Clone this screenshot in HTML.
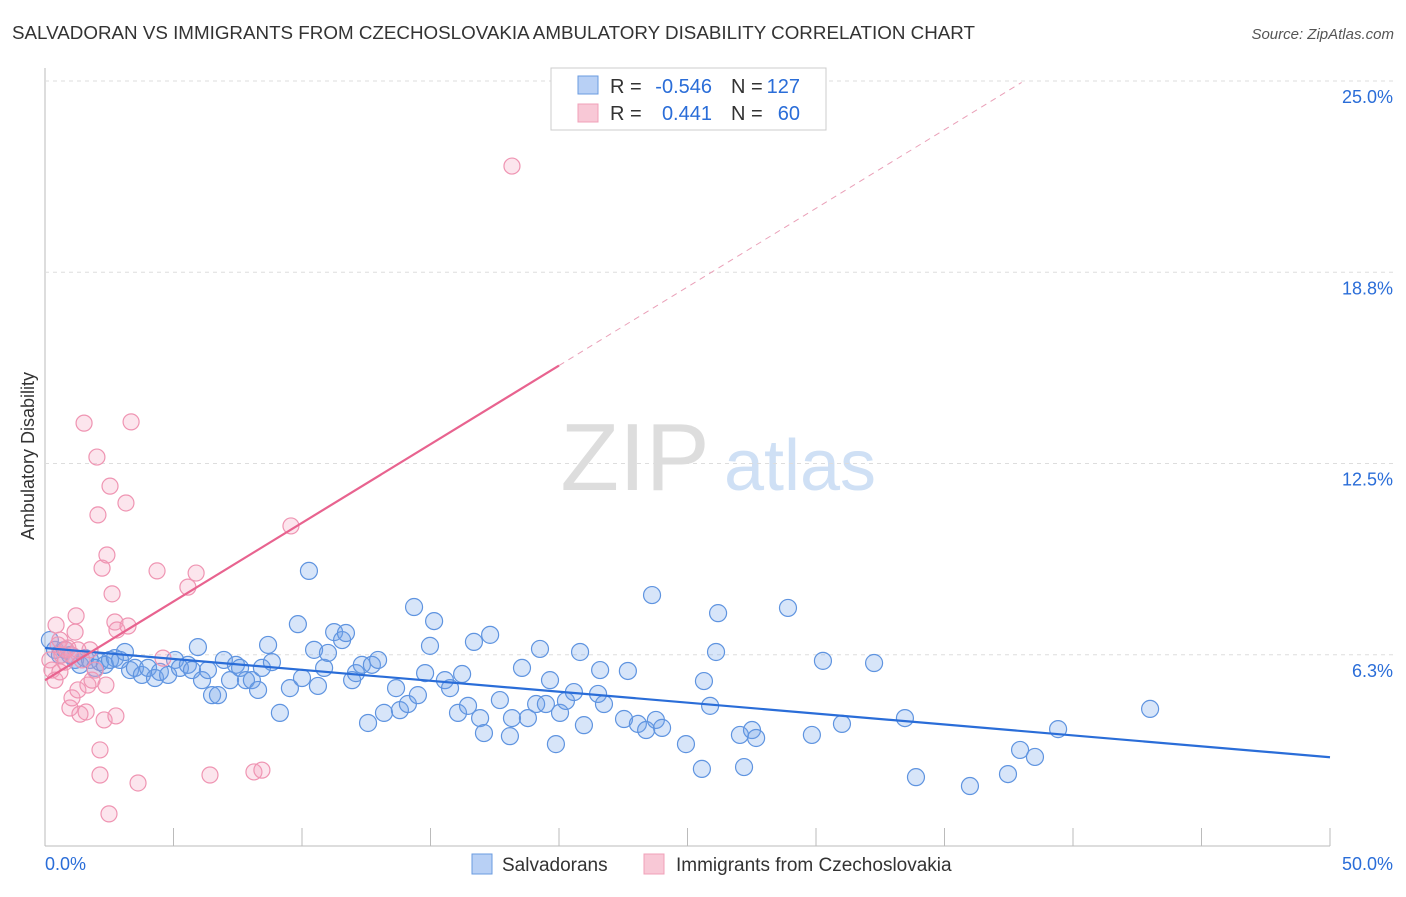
<!DOCTYPE html>
<html><head><meta charset="utf-8"><style>
body{margin:0;background:#fff;font-family:"Liberation Sans",sans-serif}
svg text{font-family:"Liberation Sans",sans-serif}
</style></head><body>
<svg id="c" width="1406" height="892" xmlns="http://www.w3.org/2000/svg">
<text x="12" y="39" font-size="18" fill="#333" textLength="963" lengthAdjust="spacingAndGlyphs">SALVADORAN VS IMMIGRANTS FROM CZECHOSLOVAKIA AMBULATORY DISABILITY CORRELATION CHART</text>
<text x="1394" y="39" font-size="15" fill="#555" text-anchor="end" font-style="italic">Source: ZipAtlas.com</text>
<text transform="translate(34,456) rotate(-90)" font-size="18" fill="#333" text-anchor="middle">Ambulatory Disability</text>
<g>
<text x="635" y="490" font-size="96" fill="#ddd" text-anchor="middle" font-family="Liberation Serif">ZIP</text>
<text x="800" y="490" font-size="72" fill="#cfe0f5" text-anchor="middle">atlas</text>
</g>
<g id="grid"></g><g id="marks"></g>
<g>
<rect x="551" y="68" width="275" height="62" fill="#fff" stroke="#ccc"/>
<rect x="578" y="76" width="20" height="18" fill="#b8d0f5" stroke="#6a9be0"/>
<rect x="578" y="104" width="20" height="18" fill="#f8c8d6" stroke="#f0a0b8"/>
<text x="610" y="93" font-size="20" fill="#333">R =</text>
<text x="712" y="93" font-size="20" fill="#2a6dd8" text-anchor="end">-0.546</text>
<text x="731" y="93" font-size="20" fill="#333">N =</text>
<text x="800" y="93" font-size="20" fill="#2a6dd8" text-anchor="end">127</text>
<text x="610" y="120" font-size="20" fill="#333">R =</text>
<text x="712" y="120" font-size="20" fill="#2a6dd8" text-anchor="end">0.441</text>
<text x="731" y="120" font-size="20" fill="#333">N =</text>
<text x="800" y="120" font-size="20" fill="#2a6dd8" text-anchor="end">60</text>
</g>
<g>
<rect x="472" y="854" width="20" height="20" fill="#b8d0f5" stroke="#6a9be0"/>
<text x="502" y="871" font-size="19" fill="#333">Salvadorans</text>
<rect x="644" y="854" width="20" height="20" fill="#f8c8d6" stroke="#f0a0b8"/>
<text x="676" y="871" font-size="19" fill="#333">Immigrants from Czechoslovakia</text>
</g>
</svg>
<script>
const yTicks=[6.25,12.5,18.75,25];
const yTickLabels=["6.3%","12.5%","18.8%","25.0%"];
const xTickLabels=["0.0%","50.0%"];
const blueX=[0.19,0.39,0.58,0.78,0.97,1.17,1.36,1.56,1.75,1.95,2.14,2.33,2.53,2.72,2.92,3.11,3.31,3.50,3.77,4.01,4.28,4.47,4.79,5.06,5.25,5.56,5.72,5.95,6.11,6.34,6.50,6.73,6.96,7.20,7.43,7.59,7.82,8.05,8.29,8.44,8.68,8.83,9.14,9.53,9.84,10.0,10.27,10.47,10.62,10.86,11.01,11.25,11.56,11.71,11.95,12.10,12.33,12.57,12.72,12.96,13.19,13.66,13.81,14.12,14.36,14.51,14.79,14.98,15.14,15.56,15.76,16.07,16.23,16.46,16.69,16.93,17.08,17.32,17.70,18.09,18.17,18.56,18.79,19.11,19.26,19.49,19.65,19.88,20.04,20.27,20.58,20.82,20.97,21.52,21.60,21.75,22.53,22.68,23.07,23.39,23.62,23.77,24.01,24.94,25.56,25.64,25.88,26.11,26.19,27.04,27.20,27.51,27.67,28.91,29.84,30.27,31.01,32.26,33.46,33.89,35.99,37.47,37.94,38.52,39.42,43.0];
const blueY=[6.73,6.41,6.24,6.41,6.24,6.08,5.92,6.14,6.08,5.82,6.01,5.92,6.08,6.14,6.08,6.34,5.75,5.82,5.59,5.82,5.49,5.69,5.59,6.08,5.82,5.92,5.75,6.50,5.42,5.75,4.93,4.93,6.08,5.42,5.92,5.82,5.42,5.42,5.10,5.82,6.57,6.01,4.35,5.16,7.25,5.49,8.99,6.41,5.23,5.82,6.31,6.99,6.73,6.96,5.42,5.65,5.92,4.02,5.92,6.08,4.35,5.16,4.44,4.64,7.81,4.93,5.65,6.54,7.35,5.42,5.16,4.35,5.62,4.58,6.67,4.18,3.69,6.90,4.77,3.59,4.18,5.82,4.18,4.64,6.44,4.64,5.42,3.33,4.35,4.74,5.03,6.34,3.95,4.97,5.75,4.64,4.15,5.72,3.99,3.79,8.20,4.12,3.86,3.33,2.52,5.39,4.58,6.34,7.61,3.63,2.58,3.79,3.53,7.78,3.63,6.05,3.99,5.98,4.18,2.25,1.96,2.35,3.14,2.91,3.82,4.48];
const pinkX=[0.19,0.27,0.39,0.51,0.58,0.66,0.78,0.89,0.97,1.05,1.17,1.21,1.28,1.36,1.44,1.52,1.60,1.67,1.75,1.83,1.95,2.02,2.06,2.14,2.14,2.22,2.30,2.37,2.41,2.49,2.53,2.61,2.72,2.76,2.80,3.15,3.23,3.35,3.62,4.36,4.59,5.56,5.88,6.42,8.13,8.44,9.57,18.17,0.43,0.58,0.82,1.05,1.28];
const pinkY=[6.08,5.75,5.42,6.57,5.69,6.24,6.01,6.47,4.51,4.84,6.99,7.52,5.10,4.31,6.08,13.82,4.38,5.26,6.41,5.42,5.75,12.71,10.82,3.14,2.32,9.08,4.12,5.26,9.51,1.05,11.76,8.24,7.32,4.25,7.06,11.21,7.19,13.86,2.06,8.99,6.14,8.46,8.92,2.32,2.42,2.48,10.46,22.22,7.22,6.73,6.41,6.24,6.41];
const blueTrend=[6.47,2.9];
const pinkTrend=[5.42,15.7];
const X=v=>45+v*25.7, Y=v=>846-v*30.6;
const NS="http://www.w3.org/2000/svg";
const g=document.getElementById('grid'), m=document.getElementById('marks');
function mk(t,a,p){const e=document.createElementNS(NS,t);for(const k in a)e.setAttribute(k,a[k]);p.appendChild(e);return e;}
let e=mk('line',{x1:45,y1:68,x2:45,y2:846,stroke:'#bbb'},g);

e=mk('line',{x1:45,y1:846,x2:1330,y2:846,stroke:'#bbb'},g);

yTicks.forEach((t,i)=>{
 e=mk('line',{x1:45,x2:1394,y1:Y(t),y2:Y(t),stroke:'#ddd','stroke-dasharray':'4,4'},g);
 
 e=mk('text',{x:1393,y:Y(t)+22,'font-size':18,fill:'#2a6dd8','text-anchor':'end'},g);e.textContent=yTickLabels[i];
 
});
for(let i=0;i<=10;i++){e=mk('line',{x1:X(i*5),x2:X(i*5),y1:828,y2:846,stroke:'#bbb'},g);
 }
e=mk('text',{x:45,y:870,'font-size':18,fill:'#2a6dd8'},g);e.textContent=xTickLabels[0];

e=mk('text',{x:1393,y:870,'font-size':18,fill:'#2a6dd8','text-anchor':'end'},g);e.textContent=xTickLabels[1];

blueX.forEach((x,i)=>{e=mk('circle',{cx:X(x),cy:Y(blueY[i]),r:8.5,fill:'rgba(110,160,235,0.28)',stroke:'#5f94e0','stroke-width':1.2},m);
 });
pinkX.forEach((x,i)=>{e=mk('circle',{cx:X(x),cy:Y(pinkY[i]),r:8,fill:'rgba(245,160,190,0.28)',stroke:'#ef94b2','stroke-width':1.2},m);
 });
e=mk('line',{x1:X(0),y1:Y(blueTrend[0]),x2:X(50),y2:Y(blueTrend[1]),stroke:'#2a6dd8','stroke-width':2.2},m);

const ps=(pinkTrend[1]-pinkTrend[0])/20;
e=mk('line',{x1:X(0),y1:Y(pinkTrend[0]),x2:X(20),y2:Y(pinkTrend[1]),stroke:'#e8638f','stroke-width':2.2},m);

const xe=38;
e=mk('line',{x1:X(20),y1:Y(pinkTrend[1]),x2:X(xe),y2:Y(pinkTrend[0]+ps*xe),stroke:'#eaa0b8','stroke-width':1,'stroke-dasharray':'6,5'},m);

</script>
</body></html>
